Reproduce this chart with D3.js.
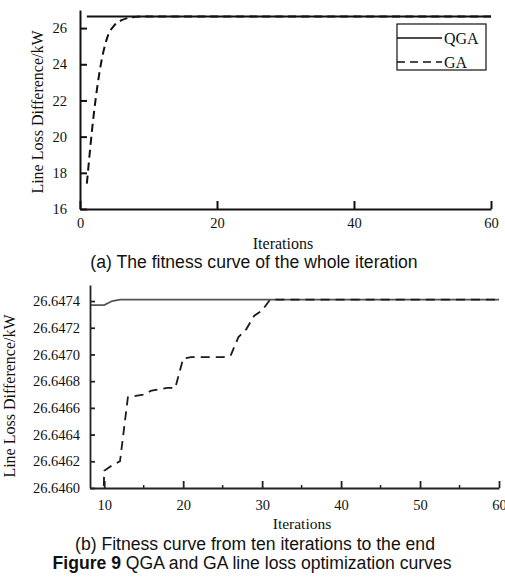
<!DOCTYPE html>
<html>
<head>
<meta charset="utf-8">
<script src="https://cdn.jsdelivr.net/npm/d3@7"></script>
<style>
  html, body { margin: 0; padding: 0; background: #fff; }
  svg text { fill: #111; }
</style>
</head>
<body>
<svg id="fig" width="505" height="580"></svg>
<script>
// values, one entry per iteration (1..60)
var qgaVals = [
  26.64737, 26.64737, 26.64737, 26.64737, 26.64737, 26.64737, 26.64737, 26.64737, 26.64737, 26.64737,
  26.64740, 26.64741, 26.64741, 26.64741, 26.64741, 26.64741, 26.64741, 26.64741, 26.64741, 26.64741,
  26.64741, 26.64741, 26.64741, 26.64741, 26.64741, 26.64741, 26.64741, 26.64741, 26.64741, 26.64741,
  26.64741, 26.64741, 26.64741, 26.64741, 26.64741, 26.64741, 26.64741, 26.64741, 26.64741, 26.64741,
  26.64741, 26.64741, 26.64741, 26.64741, 26.64741, 26.64741, 26.64741, 26.64741, 26.64741, 26.64741,
  26.64741, 26.64741, 26.64741, 26.64741, 26.64741, 26.64741, 26.64741, 26.64741, 26.64741, 26.64741
];
var gaVals = [
  17.4, 21.2, 23.9, 25.5, 26.15, 26.42, 26.56, 26.62, 26.6440, 26.64613,
  26.64617, 26.64620, 26.64668, 26.64669, 26.64670, 26.64673, 26.64674, 26.64675, 26.64675, 26.64697,
  26.64698, 26.64698, 26.64698, 26.64698, 26.64698, 26.64699, 26.64713, 26.64719, 26.64729, 26.64733,
  26.64741, 26.64741, 26.64741, 26.64741, 26.64741, 26.64741, 26.64741, 26.64741, 26.64741, 26.64741,
  26.64741, 26.64741, 26.64741, 26.64741, 26.64741, 26.64741, 26.64741, 26.64741, 26.64741, 26.64741,
  26.64741, 26.64741, 26.64741, 26.64741, 26.64741, 26.64741, 26.64741, 26.64741, 26.64741, 26.64741
];
var seriesNames = ["QGA", "GA"];

var topXTicks = [0, 20, 40, 60],
    topYTicks = [16, 18, 20, 22, 24, 26],
    botXTicks = [10, 20, 30, 40, 50, 60],
    botXMinor = [15, 25, 35, 45, 55],
    botYTicks = [26.6460, 26.6462, 26.6464, 26.6466, 26.6468, 26.6470, 26.6472, 26.6474];

var yTitle = "Line Loss Difference/kW",
    xTitle = "Iterations",
    capA   = "(a) The fitness curve of the whole iteration",
    capB   = "(b) Fitness curve from ten iterations to the end",
    figBold = "Figure 9",
    figRest = " QGA and GA line loss optimization curves";

var SERIF = "'Liberation Serif', 'DejaVu Serif', serif",
    SANS  = "'Liberation Sans', Arial, sans-serif";

var qga = qgaVals.map((v, i) => ({it: i + 1, v: v})),
    ga  = gaVals.map((v, i) => ({it: i + 1, v: v}));

var svg = d3.select("#fig");

// ---------- (a) whole iteration ----------
var x1 = d3.scaleLinear().domain([0, 60]).range([80, 491]);
var y1 = d3.scaleLinear().domain([16, 27]).range([209, 10]);

var gA = svg.append("g");

var line1 = d3.line().x(d => x1(d.it)).y(d => y1(d.v)).curve(d3.curveMonotoneX);

gA.append("path").datum(qga).attr("d", line1)
  .attr("fill", "none").attr("stroke", "#111").attr("stroke-width", 2);
gA.append("path").datum(ga).attr("d", line1)
  .attr("fill", "none").attr("stroke", "#111").attr("stroke-width", 2)
  .attr("stroke-dasharray", "8,5");

var ax1 = gA.append("g").attr("transform", "translate(0,209)")
  .call(d3.axisBottom(x1).tickValues(topXTicks).tickSizeInner(-8).tickSizeOuter(0).tickPadding(9));
var ay1 = gA.append("g").attr("transform", "translate(80,0)")
  .call(d3.axisLeft(y1).tickValues(topYTicks).tickSizeInner(-7).tickSizeOuter(0).tickPadding(13));

[ax1, ay1].forEach(a => {
  a.attr("font-family", SERIF);
  a.select(".domain").attr("stroke", "#111").attr("stroke-width", 2);
  a.selectAll(".tick line").attr("stroke", "#111").attr("stroke-width", 2);
  a.selectAll(".tick text").style("font-family", SERIF).style("font-size", "14.5px").attr("fill", "#111");
});

// legend
var leg = gA.append("g");
leg.append("rect").attr("x", 397).attr("y", 24).attr("width", 89).attr("height", 46)
  .attr("fill", "#fff").attr("stroke", "#111").attr("stroke-width", 1.2);
seriesNames.forEach((name, i) => {
  var yy = 38 + i * 24;
  leg.append("line").attr("x1", 397).attr("x2", 442).attr("y1", yy).attr("y2", yy)
    .attr("stroke", "#111").attr("stroke-width", 1.6)
    .attr("stroke-dasharray", i === 1 ? "8,5" : null);
  leg.append("text").attr("x", 444).attr("y", yy + 5.5)
    .style("font-family", SERIF).style("font-size", "16px").text(name);
});

gA.append("text")
  .attr("transform", "translate(43,112) rotate(-90)")
  .attr("text-anchor", "middle").style("font-family", SERIF).style("font-size", "16px").text(yTitle);
gA.append("text").attr("x", 283).attr("y", 249)
  .attr("text-anchor", "middle").style("font-family", SERIF).style("font-size", "16px").text(xTitle);
gA.append("text").attr("x", 254).attr("y", 268)
  .attr("text-anchor", "middle").style("font-family", SANS).style("font-size", "17.6px").text(capA);

// ---------- (b) from ten iterations ----------
var x2 = d3.scaleLinear().domain([8.2, 60]).range([90, 499]);
var y2 = d3.scaleLinear().domain([26.6460, 26.64752]).range([488, 285]);

var gB = svg.append("g");

gB.append("clipPath").attr("id", "clipB").append("rect")
  .attr("x", 90).attr("y", 280).attr("width", 420).attr("height", 208);

var line2 = d3.line().x(d => x2(d.it)).y(d => y2(d.v));

var plotB = gB.append("g").attr("clip-path", "url(#clipB)");
plotB.append("path").datum(qga).attr("d", line2)
  .attr("fill", "none").attr("stroke", "#555").attr("stroke-width", 1.8);
plotB.append("path").datum(ga).attr("d", line2)
  .attr("fill", "none").attr("stroke", "#1a1a1a").attr("stroke-width", 1.8)
  .attr("stroke-dasharray", "9,6");

var ax2 = gB.append("g").attr("transform", "translate(0,488)")
  .call(d3.axisBottom(x2).tickValues(botXTicks).tickSizeInner(-7).tickSizeOuter(0).tickPadding(12));
ax2.selectAll(".minor").data(botXMinor).enter().append("line")
  .attr("x1", d => x2(d)).attr("x2", d => x2(d)).attr("y1", 0).attr("y2", -3)
  .attr("stroke", "#222").attr("stroke-width", 1.5);
var ay2 = gB.append("g").attr("transform", "translate(90,0)")
  .call(d3.axisLeft(y2).tickValues(botYTicks).tickFormat(d3.format(".4f"))
    .tickSizeInner(-5).tickSizeOuter(0).tickPadding(10));

[ax2, ay2].forEach(a => {
  a.attr("font-family", SERIF);
  a.select(".domain").attr("stroke", "#222").attr("stroke-width", 1.8);
  a.selectAll(".tick line").attr("stroke", "#222").attr("stroke-width", 1.8);
  a.selectAll(".tick text").style("font-family", SERIF).style("font-size", "14.5px").attr("fill", "#111");
});

gB.append("text")
  .attr("transform", "translate(15,396) rotate(-90)")
  .attr("text-anchor", "middle").style("font-family", SERIF).style("font-size", "16px").text(yTitle);
gB.append("text").attr("x", 302).attr("y", 529)
  .attr("text-anchor", "middle").style("font-family", SERIF).style("font-size", "15.5px").text(xTitle);
gB.append("text").attr("x", 255).attr("y", 550)
  .attr("text-anchor", "middle").style("font-family", SANS).style("font-size", "17.6px").text(capB);

var fig = gB.append("text").attr("x", 252).attr("y", 569)
  .attr("text-anchor", "middle").style("font-family", SANS).style("font-size", "17.6px");
fig.append("tspan").style("font-weight", "bold").text(figBold);
fig.append("tspan").text(figRest);
</script>
</body>
</html>
